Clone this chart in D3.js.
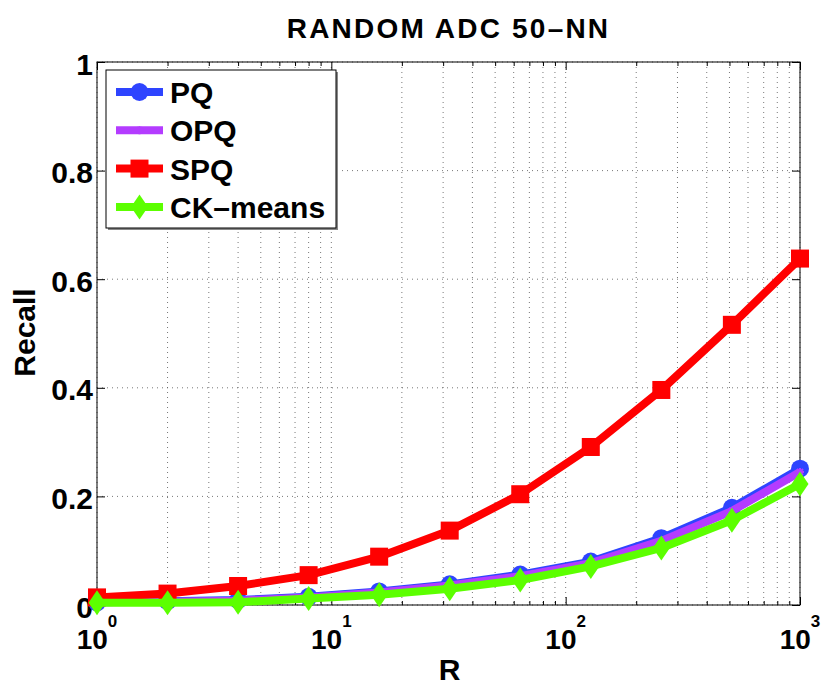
<!DOCTYPE html>
<html>
<head>
<meta charset="UTF-8">
<title>RANDOM ADC 50-NN</title>
<script src="https://cdnjs.cloudflare.com/ajax/libs/d3/7.8.5/d3.min.js"></script>
<style>
    body { margin: 0; background: #fff; }
    svg { display: block; font-family: "Liberation Sans", Arial, sans-serif; font-weight: bold; }
    .grid line { stroke: #555; stroke-width: 0.8; stroke-dasharray: 1,4; }
    .axis path { display: none; }
    .axis line { stroke: #000; stroke-width: 1; }
</style>
</head>
<body>
<div id="chart"></div>
<script>
// data
const R = [1, 2, 4, 8, 16, 32, 64, 128, 256, 512, 1000];
const pq   = [0.005, 0.007, 0.009, 0.015, 0.025, 0.038, 0.056, 0.080, 0.123, 0.179, 0.251];
const opq  = [0.005, 0.006, 0.008, 0.014, 0.023, 0.036, 0.053, 0.077, 0.118, 0.173, 0.245];
const spq  = [0.014, 0.021, 0.035, 0.055, 0.089, 0.137, 0.204, 0.291, 0.396, 0.516, 0.638];
const ckm  = [0.004, 0.004, 0.005, 0.012, 0.019, 0.030, 0.046, 0.071, 0.105, 0.156, 0.223];
const seriesNames = ["PQ", "OPQ", "SPQ", "CK–means"];
const xMajor = [1, 10, 100, 1000];
const xExp = ["0", "1", "2", "3"];
const yTicks = [0, 0.2, 0.4, 0.6, 0.8, 1];
const yTickLabels = ["0", "0.2", "0.4", "0.6", "0.8", "1"];

const W = 830, H = 689;
const margin = { top: 62, right: 30, bottom: 84, left: 97 };
const width = W - margin.left - margin.right;
const height = H - margin.top - margin.bottom;

const svg = d3.select("#chart").append("svg")
    .attr("width", W).attr("height", H);
const g = svg.append("g").attr("transform", `translate(${margin.left},${margin.top})`);

const x = d3.scaleLog().domain([1, 1000]).range([0, width]);
const y = d3.scaleLinear().domain([0, 1]).range([height, 0]);

// minor ticks for the log axis
const xMinor = [];
xMajor.slice(0, -1).forEach(d => { for (let k = 2; k <= 9; k++) xMinor.push(d * k); });

// grid
const grid = g.append("g").attr("class", "grid");
grid.selectAll(".gx").data(xMajor.concat(xMinor)).enter().append("line")
    .attr("x1", d => x(d)).attr("x2", d => x(d))
    .attr("y1", 0).attr("y2", height);
grid.selectAll(".gy").data(yTicks).enter().append("line")
    .attr("x1", 0).attr("x2", width)
    .attr("y1", d => y(d)).attr("y2", d => y(d));

// axes (ticks pointing inside, on all four sides)
g.append("g").attr("class", "axis").attr("transform", `translate(0,${height})`)
    .call(d3.axisBottom(x).tickValues(xMajor).tickSize(-8).tickFormat(""));
g.append("g").attr("class", "axis").attr("transform", `translate(0,${height})`)
    .call(d3.axisBottom(x).tickValues(xMinor).tickSize(-4).tickFormat(""));
g.append("g").attr("class", "axis")
    .call(d3.axisTop(x).tickValues(xMajor).tickSize(-8).tickFormat(""));
g.append("g").attr("class", "axis")
    .call(d3.axisTop(x).tickValues(xMinor).tickSize(-4).tickFormat(""));
g.append("g").attr("class", "axis").attr("transform", `translate(${width},0)`)
    .call(d3.axisRight(y).tickValues(yTicks).tickSize(-8).tickFormat(""));

const yAxis = g.append("g").attr("class", "axis")
    .call(d3.axisLeft(y).tickValues(yTicks).tickSize(-8).tickPadding(4)
        .tickFormat((d, i) => yTickLabels[i]));
yAxis.selectAll("text")
    .attr("dy", "0.4em")
    .style("font-size", "30px")
    .style("font-family", "'Liberation Sans', Arial, sans-serif")
    .style("font-weight", "bold")
    .attr("fill", "#000");

// x tick labels 10^k
const xl = g.append("g");
xMajor.forEach((d, i) => {
    const t = xl.append("text")
        .attr("x", x(d)).attr("y", height + 44)
        .attr("text-anchor", "middle")
        .style("font-size", "28px");
    t.append("tspan").text("10");
    t.append("tspan").attr("dy", -22).style("font-size", "17px").text(xExp[i]);
});

// box
g.append("rect").attr("width", width).attr("height", height)
    .attr("fill", "none").attr("stroke", "#000").attr("stroke-width", 1);

// series
const series = [
    { name: seriesNames[0], values: pq,  color: "#2e44ff", marker: "circle" },
    { name: seriesNames[1], values: opq, color: "#b43cff", marker: "star" },
    { name: seriesNames[2], values: spq, color: "#ff0000", marker: "square" },
    { name: seriesNames[3], values: ckm, color: "#5cff00", marker: "diamond" }
];

const line = d3.line().x(d => x(d[0])).y(d => y(d[1]));

function drawMarker(sel, type, color) {
    if (type === "circle") {
        sel.append("circle").attr("r", 9).attr("fill", color);
    } else if (type === "square") {
        sel.append("rect").attr("x", -9).attr("y", -9).attr("width", 18).attr("height", 18).attr("fill", color);
    } else if (type === "diamond") {
        sel.append("path").attr("d", "M0,-12.5L8.5,0L0,12.5L-8.5,0Z").attr("fill", color);
    } else {
        sel.append("path").attr("d", "M-4,0H4M0,-4V4M-3,-3L3,3M-3,3L3,-3")
            .attr("stroke", color).attr("stroke-width", 2).attr("fill", "none");
    }
}

series.forEach(s => {
    const pts = R.map((r, i) => [r, s.values[i]]);
    g.append("path").datum(pts)
        .attr("d", line)
        .attr("fill", "none")
        .attr("stroke", s.color)
        .attr("stroke-width", 8)
        .attr("stroke-linejoin", "round");
    g.selectAll(null).data(pts).enter().append("g")
        .attr("transform", d => `translate(${x(d[0])},${y(d[1])})`)
        .each(function() { drawMarker(d3.select(this), s.marker, s.color); });
});

// legend
const legend = svg.append("g").attr("transform", "translate(106,70)");
legend.append("rect").attr("x", 2).attr("y", 2).attr("width", 230).attr("height", 158)
    .attr("fill", "#888");
legend.append("rect").attr("width", 230).attr("height", 158)
    .attr("fill", "#fff").attr("stroke", "#000").attr("stroke-width", 1);
series.forEach((s, i) => {
    const row = legend.append("g").attr("transform", `translate(0,${22 + i * 38.3})`);
    row.append("line").attr("x1", 10).attr("x2", 57)
        .attr("stroke", s.color).attr("stroke-width", 8);
    drawMarker(row.append("g").attr("transform", "translate(33.5,0)"), s.marker, s.color);
    row.append("text").attr("x", 64).attr("y", 11)
        .style("font-size", "30px").text(s.name);
});

// title and axis labels
svg.append("text").attr("x", margin.left + width / 2).attr("y", 38)
    .attr("text-anchor", "middle")
    .style("font-size", "28px").style("letter-spacing", "2.2px")
    .text("RANDOM ADC 50–NN");
svg.append("text").attr("x", margin.left + width / 2 + 1).attr("y", 680)
    .attr("text-anchor", "middle").style("font-size", "30px").text("R");
svg.append("text")
    .attr("transform", `translate(35,${margin.top + height / 2 - 1}) rotate(-90)`)
    .attr("text-anchor", "middle").style("font-size", "30px").text("Recall");
</script>
</body>
</html>
